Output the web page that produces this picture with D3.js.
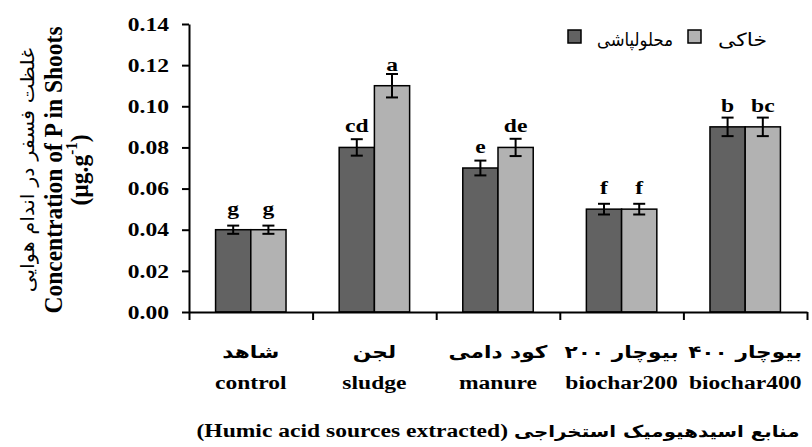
<!DOCTYPE html>
<html>
<head>
<meta charset="utf-8">
<script src="https://cdn.jsdelivr.net/npm/d3@7"></script>
<style>
  body { margin: 0; background: #fff; }
  svg { display: block; }
</style>
</head>
<body>
<svg id="chart" width="812" height="447"></svg>
<script>
// ---------- data ----------
const categoriesFa = ["شاهد", "لجن", "کود دامی", "بیوچار ۲۰۰", "بیوچار ۴۰۰"];
const categoriesEn = ["control", "sludge", "manure", "biochar200", "biochar400"];
const seriesNames = ["محلولپاشی", "خاکی"];
const foliarValues = [0.04, 0.08, 0.07, 0.05, 0.09];
const soilValues = [0.04, 0.11, 0.08, 0.05, 0.09];
const foliarErrors = [0.002, 0.004, 0.0036, 0.0026, 0.0045];
const soilErrors = [0.002, 0.0057, 0.0042, 0.0026, 0.0045];
const foliarLetters = ["g", "cd", "e", "f", "b"];
const soilLetters = ["g", "a", "de", "f", "bc"];
const yTicks = [0, 0.02, 0.04, 0.06, 0.08, 0.10, 0.12, 0.14];
const yTitleFa = "غلظت فسفر در اندام هوایی";
const yTitleEn = "Concentration of P in Shoots";
const xTitleFa = "منابع اسیدهیومیک استخراجی";
const xTitleEn = "(Humic acid sources extracted)";

(function () {
// ---------- layout ----------
const SX = 1.24; // horizontal text stretch seen in the reference
const pLeft = 189, pRight = 807, pTop = 24, pBottom = 312;
const serif = "'Liberation Serif', 'Times New Roman', serif";
const faFont = "'DejaVu Sans', sans-serif";
const colors = ["#626262", "#b2b2b2"];

const svg = d3.select("#chart");

const rows = categoriesEn.map((c, i) => ({
  cat: c,
  fa: categoriesFa[i],
  bars: [
    { s: 0, v: foliarValues[i], e: foliarErrors[i], l: foliarLetters[i] },
    { s: 1, v: soilValues[i], e: soilErrors[i], l: soilLetters[i] }
  ]
}));

const x = d3.scaleBand().domain(categoriesEn).range([pLeft, pRight])
  .paddingInner(0.43).paddingOuter(0.215);
const xs = d3.scaleBand().domain([0, 1]).range([0, x.bandwidth()]);
const y = d3.scaleLinear().domain([0, 0.14]).range([pBottom, pTop]);
const xEdge = d3.scaleLinear().domain([0, categoriesEn.length]).range([pLeft, pRight]);

// ---------- bars ----------
const groups = svg.append("g").selectAll("g").data(rows).join("g")
  .attr("transform", d => `translate(${x(d.cat)},0)`);

groups.selectAll("rect").data(d => d.bars).join("rect")
  .attr("x", b => xs(b.s))
  .attr("y", b => y(b.v))
  .attr("width", xs.bandwidth())
  .attr("height", b => y(0) - y(b.v))
  .attr("fill", b => colors[b.s])
  .attr("stroke", "#000")
  .attr("stroke-width", 1.5);

// error bars
const eb = groups.selectAll("g.err").data(d => d.bars).join("g").attr("class", "err")
  .attr("stroke", "#000").attr("stroke-width", 2);
const cx = b => xs(b.s) + xs.bandwidth() / 2;
eb.append("line")
  .attr("x1", cx).attr("x2", cx)
  .attr("y1", b => y(b.v + b.e)).attr("y2", b => y(b.v - b.e));
eb.append("line")
  .attr("x1", b => cx(b) - 6).attr("x2", b => cx(b) + 6)
  .attr("y1", b => y(b.v + b.e)).attr("y2", b => y(b.v + b.e));
eb.append("line")
  .attr("x1", b => cx(b) - 6).attr("x2", b => cx(b) + 6)
  .attr("y1", b => y(b.v - b.e)).attr("y2", b => y(b.v - b.e));

// letters
groups.selectAll("text.letter").data(d => d.bars).join("text").attr("class", "letter")
  .attr("transform", b => `translate(${cx(b)},${y(b.v) - 15}) scale(${SX},1)`)
  .attr("text-anchor", "middle")
  .attr("font-family", serif).attr("font-weight", "bold").attr("font-size", 19)
  .text(b => b.l);

// ---------- axes ----------
const yAxis = svg.append("g").attr("transform", `translate(${pLeft},0)`)
  .call(d3.axisLeft(y).tickValues(yTicks).tickSize(7).tickSizeOuter(0).tickFormat(d3.format(".2f")));
yAxis.attr("font-family", serif);
yAxis.select(".domain").attr("stroke-width", 2);
yAxis.selectAll(".tick line").attr("stroke-width", 2);
yAxis.selectAll(".tick text")
  .attr("x", null).attr("dy", null)
  .attr("transform", `translate(-20,0) scale(${SX},1)`)
  .attr("dominant-baseline", "central")
  .attr("font-family", serif).attr("font-weight", "bold").attr("font-size", 19).attr("fill", "#000");

const xAxis = svg.append("g").attr("transform", `translate(0,${pBottom})`)
  .call(d3.axisBottom(xEdge).ticks(categoriesEn.length).tickSize(8).tickSizeOuter(0).tickFormat(""));
xAxis.select(".domain").attr("stroke-width", 2);
xAxis.selectAll(".tick line").attr("stroke-width", 2);

// category labels
const labels = svg.append("g").selectAll("g").data(rows).join("g")
  .attr("transform", d => `translate(${x(d.cat) + x.bandwidth() / 2},0)`);
labels.append("text")
  .attr("transform", `translate(0,358) scale(${SX},1)`)
  .attr("text-anchor", "middle")
  .attr("font-family", faFont).attr("font-weight", "bold").attr("font-size", 17.5)
  .text(d => d.fa);
labels.append("text")
  .attr("transform", `translate(0,389) scale(${SX},1)`)
  .attr("text-anchor", "middle")
  .attr("font-family", serif).attr("font-weight", "bold").attr("font-size", 19)
  .text(d => d.cat);

// x title
const xt = svg.append("text")
  .attr("transform", `translate(${(pLeft + pRight) / 2},437) scale(${SX},1)`)
  .attr("text-anchor", "middle").attr("font-weight", "bold");
xt.append("tspan").attr("font-family", serif).attr("font-size", 19).text(xTitleEn + " ");
xt.append("tspan").attr("font-family", faFont).attr("font-size", 16).text(xTitleFa);

// y title
const yc = (pTop + pBottom) / 2 + 2;
svg.append("text")
  .attr("transform", `translate(27,${yc}) rotate(-90) scale(1.1,1)`)
  .attr("text-anchor", "middle").attr("dominant-baseline", "central")
  .attr("font-family", faFont).attr("font-size", 19)
  .text(yTitleFa);
svg.append("text")
  .attr("transform", `translate(54,${yc}) scale(1.05,1) rotate(-90)`)
  .attr("text-anchor", "middle").attr("dominant-baseline", "central")
  .attr("font-family", serif).attr("font-weight", "bold").attr("font-size", 23.5)
  .text(yTitleEn);
const unit = svg.append("text")
  .attr("transform", `translate(80,${yc}) scale(1.05,1) rotate(-90)`)
  .attr("text-anchor", "middle").attr("dominant-baseline", "central")
  .attr("font-family", serif).attr("font-weight", "bold").attr("font-size", 23.5);
unit.append("tspan").text("(µg.g");
unit.append("tspan").attr("font-size", 15).attr("dy", -9).text("-1");
unit.append("tspan").attr("dy", 9).text(")");

// legend
const legendX = [568, 688];
const legendTextStart = [597, 718];
const legendTextLen = [76, 49];
const legend = svg.append("g").selectAll("g").data(seriesNames).join("g");
legend.append("rect")
  .attr("x", (d, i) => legendX[i]).attr("y", 30)
  .attr("width", 13).attr("height", 13)
  .attr("fill", (d, i) => colors[i]).attr("stroke", "#000").attr("stroke-width", 1.5);
legend.append("text")
  .attr("x", (d, i) => legendTextStart[i]).attr("y", 46)
  .attr("textLength", (d, i) => legendTextLen[i])
  .attr("lengthAdjust", "spacingAndGlyphs")
  .attr("font-family", faFont).attr("font-size", 18)
  .text(d => d);
})();
</script>
</body>
</html>
